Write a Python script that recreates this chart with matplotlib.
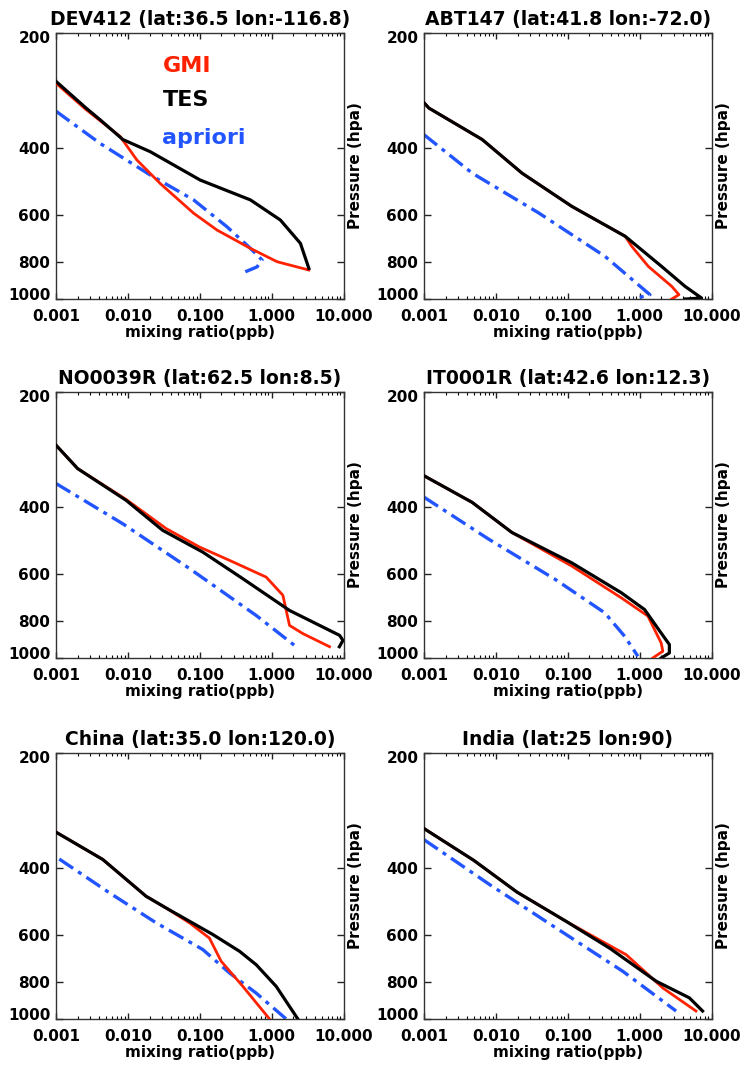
import matplotlib
matplotlib.use('Agg')
import matplotlib.pyplot as plt
import matplotlib.transforms as mtransforms
from matplotlib.ticker import FixedLocator, FixedFormatter, NullLocator, LogLocator, FormatStrFormatter

plt.rcParams['font.family'] = 'DejaVu Sans'
plt.rcParams['font.weight'] = 'bold'

RED = '#ff2200'
BLUE = '#2255ff'

titles = ['DEV412 (lat:36.5 lon:-116.8)', 'ABT147 (lat:41.8 lon:-72.0)',
          'NO0039R (lat:62.5 lon:8.5)', 'IT0001R (lat:42.6 lon:12.3)',
          'China (lat:35.0 lon:120.0)', 'India (lat:25 lon:90)']

# DEV412
dev_tes_x = [0.001, 0.00262, 0.0041, 0.0085, 0.0204, 0.1016, 0.506, 1.32, 2.51, 3.29]
dev_tes_p = [268, 315, 338, 381, 410, 487, 549, 620, 714, 831]
dev_gmi_x = [0.001, 0.00262, 0.0078, 0.0133, 0.0281, 0.082, 0.174, 0.506, 1.19, 3.29]
dev_gmi_p = [271, 318, 374, 431, 497, 595, 659, 736, 798, 839]
dev_apr_x = [0.001, 0.0041, 0.0204, 0.082, 0.239, 0.506, 0.736, 0.627, 0.430]
dev_apr_p = [321, 390, 472, 549, 646, 736, 790, 823, 848]

# ABT147
abt_tes_x = [0.001, 0.00117, 0.00645, 0.0231, 0.114, 0.628, 2.02, 4.27, 7.26, 4.27]
abt_tes_p = [305, 315, 381, 467, 571, 684, 821, 926, 994, 1000]
abt_gmi_x = [0.001, 0.00117, 0.00645, 0.0231, 0.114, 0.628, 0.776, 1.32, 2.79, 3.52, 2.79]
abt_gmi_p = [305, 315, 381, 467, 571, 684, 727, 821, 926, 974, 1000]
abt_apr_x = [0.001, 0.00469, 0.0394, 0.331, 1.39, 0.819]
abt_apr_p = [370, 467, 594, 773, 974, 1000]

# NO0039R
no_tes_x = [0.001, 0.002, 0.0094, 0.0305, 0.110, 0.397, 1.77, 8.8, 9.8, 8.74]
no_tes_p = [276, 318, 385, 462, 527, 619, 750, 872, 899, 934]
no_gmi_x = [0.001, 0.002, 0.0094, 0.034, 0.099, 0.288, 0.838, 1.43, 1.77, 2.72, 6.38]
no_gmi_p = [276, 318, 383, 457, 511, 559, 613, 684, 821, 863, 934]
no_apr_x = [0.001, 0.0085, 0.0718, 0.608, 2.19]
no_apr_p = [348, 444, 582, 773, 934]

# IT0001R
it_tes_x = [0.001, 0.00467, 0.0167, 0.113, 0.556, 1.17, 1.99, 2.59, 2.59, 1.99]
it_tes_p = [332, 390, 468, 562, 674, 746, 860, 922, 970, 1000]
it_gmi_x = [0.001, 0.00467, 0.0167, 0.113, 0.556, 1.30, 1.99, 2.10, 1.52]
it_gmi_p = [332, 390, 468, 573, 695, 776, 913, 960, 1000]
it_apr_x = [0.001, 0.0079, 0.0664, 0.327, 0.618, 0.946]
it_apr_p = [378, 487, 621, 761, 877, 990]

# China
ch_tes_x = [0.001, 0.00447, 0.0179, 0.034, 0.152, 0.357, 0.608, 1.155, 2.31]
ch_tes_p = [323, 381, 476, 511, 600, 664, 720, 821, 1000]
ch_gmi_x = [0.001, 0.00447, 0.0179, 0.034, 0.0718, 0.136, 0.198, 0.397, 0.933]
ch_gmi_p = [323, 381, 476, 511, 559, 613, 705, 821, 1000]
ch_apr_x = [0.00111, 0.00552, 0.0247, 0.110, 0.259, 0.608, 1.59]
ch_apr_p = [380, 466, 559, 657, 757, 855, 1000]

# India
in_tes_x = [0.001, 0.00492, 0.0196, 0.0964, 0.384, 1.70, 4.91, 7.5]
in_tes_p = [316, 383, 464, 555, 652, 796, 880, 953]
in_gmi_x = [0.001, 0.00492, 0.0196, 0.0964, 0.65, 2.10, 6.07]
in_gmi_p = [316, 383, 464, 555, 678, 829, 953]
in_apr_x = [0.001, 0.0084, 0.070, 0.586, 3.21]
in_apr_p = [338, 445, 578, 750, 953]

panels = [
    (dev_gmi_x, dev_gmi_p, dev_tes_x, dev_tes_p, dev_apr_x, dev_apr_p),
    (abt_gmi_x, abt_gmi_p, abt_tes_x, abt_tes_p, abt_apr_x, abt_apr_p),
    (no_gmi_x, no_gmi_p, no_tes_x, no_tes_p, no_apr_x, no_apr_p),
    (it_gmi_x, it_gmi_p, it_tes_x, it_tes_p, it_apr_x, it_apr_p),
    (ch_gmi_x, ch_gmi_p, ch_tes_x, ch_tes_p, ch_apr_x, ch_apr_p),
    (in_gmi_x, in_gmi_p, in_tes_x, in_tes_p, in_apr_x, in_apr_p),
]

p_ticks = [200, 400, 600, 800, 1000]
x_ticks = [0.001, 0.01, 0.1, 1.0, 10.0]

fig = plt.figure(figsize=(7.44, 10.68), dpi=100)
lefts = [0.0753, 0.5699]
bottoms = [0.7200, 0.3839, 0.0459]
w, h = 0.3865, 0.2491

for i, (gx, gp, tx, tp, ax_, ap) in enumerate(panels):
    ax = fig.add_axes([lefts[i % 2], bottoms[i // 2], w, h])
    ax.plot(gx, gp, color=RED, lw=2.0, zorder=3)
    ax.plot(tx, tp, color='black', lw=2.3, zorder=4)
    ax.plot(ax_, ap, color=BLUE, lw=2.4, linestyle=(0, (5, 1.8, 1.2, 1.8)), zorder=2)

    ax.set_xscale('log')
    ax.set_yscale('log')
    ax.set_xlim(0.001, 10)
    ax.set_ylim(1000, 200)

    ax.yaxis.set_major_locator(FixedLocator(p_ticks))
    ax.yaxis.set_major_formatter(FixedFormatter([str(v) for v in p_ticks]))
    ax.yaxis.set_minor_locator(NullLocator())
    ax.xaxis.set_major_locator(FixedLocator(x_ticks))
    ax.xaxis.set_major_formatter(FormatStrFormatter('%.3f'))
    ax.xaxis.set_minor_locator(LogLocator(base=10, subs=range(2, 10)))

    ax.tick_params(axis='both', which='major', direction='in', top=True, right=True,
                   labelsize=11, width=1, colors='#222222', labelcolor='black')
    ax.tick_params(axis='x', which='major', length=4, pad=7)
    ax.tick_params(axis='x', which='minor', direction='in', top=True, length=2.2, width=0.8)
    ax.tick_params(axis='y', which='major', length=5, pad=4)
    for s in ax.spines.values():
        s.set_linewidth(1.0)
        s.set_color('#333333')

    # end labels sit slightly inside the axis range
    yt = ax.yaxis.get_major_ticks()
    down = mtransforms.ScaledTranslation(0, -3 / 72, fig.dpi_scale_trans)
    up = mtransforms.ScaledTranslation(0, 3.5 / 72, fig.dpi_scale_trans)
    yt[0].label1.set_transform(yt[0].label1.get_transform() + down)
    yt[-1].label1.set_transform(yt[-1].label1.get_transform() + up)

    ax.set_title(titles[i], fontsize=13.5, fontweight='bold', pad=6)
    ax.set_xlabel('mixing ratio(ppb)', fontsize=11, fontweight='bold', labelpad=1)
    ax.yaxis.set_label_position('right')
    ax.set_ylabel('Pressure (hpa)', fontsize=11, fontweight='bold', labelpad=3)

    if i == 0:
        ax.text(0.37, 0.853, 'GMI', color=RED, fontsize=16, fontweight='bold',
                transform=ax.transAxes, va='baseline')
        ax.text(0.37, 0.726, 'TES', color='black', fontsize=16, fontweight='bold',
                transform=ax.transAxes, va='baseline')
        ax.text(0.37, 0.583, 'apriori', color=BLUE, fontsize=16, fontweight='bold',
                transform=ax.transAxes, va='baseline')

fig.savefig('out.png', dpi=100)
